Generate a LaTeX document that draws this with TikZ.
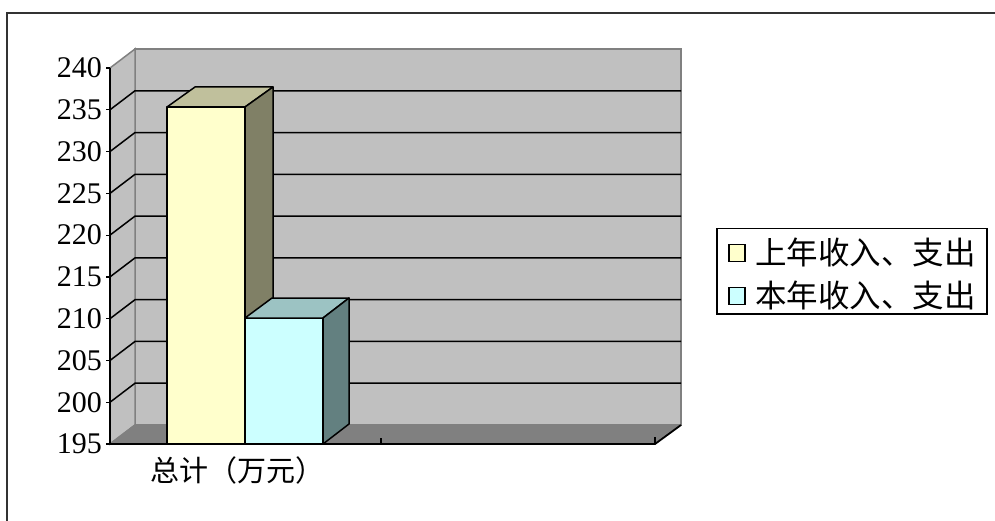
\documentclass[tikz,border=0pt]{standalone}
\usepackage{fontspec}
\setmainfont{Liberation Serif}
\newfontfamily\cjk{Noto Sans CJK SC}
\definecolor{wallgray}{HTML}{C0C0C0}
\definecolor{edgegray}{HTML}{808080}
\definecolor{floorgray}{HTML}{808080}
\definecolor{yfront}{HTML}{FFFFCC}
\definecolor{ytop}{HTML}{C0C09C}
\definecolor{yside}{HTML}{808066}
\definecolor{cfront}{HTML}{CCFFFF}
\definecolor{ctop}{HTML}{9CC3C3}
\definecolor{cside}{HTML}{638080}
\begin{document}
\begin{tikzpicture}[x=1pt,y=-1pt,
  wall/.style={fill=wallgray,draw=edgegray,line width=1.5pt,line join=miter},
  gridln/.style={draw=black,line width=1.5pt},
  barface/.style={draw=black,line width=1.5pt,line join=round},
  ticklbl/.style={anchor=east,inner sep=0pt,font=\fontsize{30}{32}\selectfont},
  cjklbl/.style={inner sep=0pt,font=\cjk\fontsize{29}{32}\selectfont},
  legtxt/.style={inner sep=0pt,anchor=west,font=\cjk\fontsize{31.5}{34}\selectfont},
  legbox/.style={draw=black,line width=1.2pt,minimum width=16pt,minimum height=17pt,inner sep=0pt}]
\useasboundingbox (0,0) rectangle (995,521);
% outer frame (only top and left visible)
\draw[line width=1.5pt,draw=black!80] (995,13) -- (7,13) -- (7,521);
% back wall
\draw[wall] (135,49) rectangle (681,425);
% side wall
\draw[wall] (110,68) -- (135,49) -- (135,425) -- (110,444) -- cycle;
% floor
\fill[floorgray] (110,444) -- (135,425) -- (681,425) -- (655,444) -- cycle;
\draw[edgegray,line width=1.5pt] (110,444) -- (135,425) -- (681,425);
% gridlines
\foreach \v in {235,230,...,200} {
  \pgfmathsetmacro\yy{68+(240-\v)/5*41.78}
  \draw[gridln] (110,\yy) -- (135,{\yy-19}) -- (681,{\yy-19});
}
% front axis
\draw[black,line width=1.5pt] (110,68) -- (110,444);
\draw[black,line width=1.8pt] (110,444) -- (655,444) -- (681,425);
\draw[black,line width=1.5pt] (381,444) -- (381,438);
\draw[black,line width=1.5pt] (655,444) -- (655,437);
% ticks and labels
\foreach \v in {240,235,...,195} {
  \pgfmathsetmacro\yy{68+(240-\v)/5*41.78}
  \draw[black,line width=1.2pt] (106,\yy) -- (110,\yy);
  \node[ticklbl] (lbl\v) at (102,\yy) {\v};
}
% bar 1 (last year)
\draw[barface,fill=yfront] (167,107) rectangle (245,444);
\draw[barface,fill=ytop] (167,107) -- (195,87) -- (273,87) -- (245,107) -- cycle;
\draw[barface,fill=yside] (245,107) -- (273,87) -- (273,424) -- (245,444) -- cycle;
% bar 2 (this year)
\draw[barface,fill=cfront] (245,318) rectangle (323,444);
\draw[barface,fill=ctop] (245,318) -- (272,298) -- (349,298) -- (323,318) -- cycle;
\draw[barface,fill=cside] (323,318) -- (349,298) -- (349,424) -- (323,444) -- cycle;
% category label
\node[cjklbl] (cat) at (237,470) {总计（万元）};
% legend
\node[draw=black,line width=1.5pt,minimum width=270pt,minimum height=85pt,anchor=north west,inner sep=0pt] (legend) at (716,228) {};
\node[legbox,fill=yfront] (k1) at (737,253) {};
\node[legbox,fill=cfront] (k2) at (737,296) {};
\node[legtxt] (t1) at (755,252) {上年收入、支出};
\node[legtxt] (t2) at (755,295) {本年收入、支出};
\end{tikzpicture}
\end{document}
